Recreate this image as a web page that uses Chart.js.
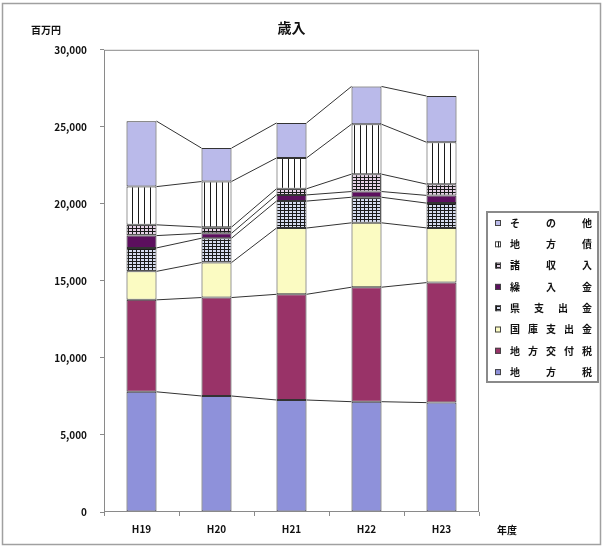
<!DOCTYPE html>
<html>
<head>
<meta charset="utf-8">
<script src="https://cdn.jsdelivr.net/npm/chart.js@4/dist/chart.umd.min.js"></script>
<style>
  body { margin: 0; background: #fff; }
  #wrap { width: 604px; height: 549px; }
</style>
</head>
<body>
<div id="wrap"><canvas id="revenue-chart" width="604" height="549"></canvas></div>
<script>
const categories = ['H19', 'H20', 'H21', 'H22', 'H23'];
const seriesNames = ['地方税', '地方交付税', '国庫支出金', '県支出金', '繰入金', '諸収入', '地方債', 'その他'];
// 百万円
const chihouzei = [7800, 7530, 7270, 7160, 7100];
const koufuzei = [5970, 6390, 6860, 7430, 7790];
const kokkoShishutsu = [1850, 2270, 4300, 4180, 3550];
const kenShishutsu = [1520, 1580, 1750, 1660, 1610];
const kurikomi = [800, 320, 400, 370, 500];
const shoShuunyuu = [700, 400, 400, 1130, 730];
const chihousai = [2480, 2960, 2000, 3240, 2720];
const sonota = [4250, 2170, 2270, 2450, 3000];
const yTicks = [0, 5000, 10000, 15000, 20000, 25000, 30000];

const JP = '"Noto Sans CJK JP", "Noto Sans", sans-serif';

function makePattern(w, h, bg, draw) {
    const c = document.createElement('canvas');
    c.width = w;
    c.height = h;
    const x = c.getContext('2d');
    x.fillStyle = bg;
    x.fillRect(0, 0, w, h);
    x.fillStyle = '#1a1a1a';
    draw(x);
    return x.createPattern(c, 'repeat');
}

const gridPatternA = makePattern(4, 3, '#d6dcef', x => { x.fillRect(0, 0, 4, 1); x.fillRect(0, 0, 1, 3); });
const gridPatternB = makePattern(4, 3, '#e6d2e6', x => { x.fillRect(0, 0, 4, 1); x.fillRect(0, 0, 1, 3); });
const vlinePattern = makePattern(6, 1, '#ffffff', x => { x.fillRect(0, 0, 1, 1); });

const seriesValues = [chihouzei, koufuzei, kokkoShishutsu, kenShishutsu, kurikomi, shoShuunyuu, chihousai, sonota];
const seriesFills = ['#8e91da', '#993368', '#fbfbc2', gridPatternA, '#5c0f5e', gridPatternB, vlinePattern, '#babaea'];

// lines joining the segment tops of neighbouring bars
const seriesLinesPlugin = {
    id: 'seriesLines',
    afterDatasetsDraw(chart) {
        const ctx = chart.ctx;
        ctx.save();
        ctx.strokeStyle = '#333';
        ctx.lineWidth = 1;
        chart.data.datasets.forEach((ds, d) => {
            const bars = chart.getDatasetMeta(d).data;
            for (let i = 0; i < bars.length - 1; i++) {
                const a = bars[i], b = bars[i + 1];
                ctx.beginPath();
                ctx.moveTo(a.x + a.width / 2, a.y);
                ctx.lineTo(b.x - b.width / 2, b.y);
                ctx.stroke();
            }
        });
        ctx.restore();
    }
};

const decorPlugin = {
    id: 'decor',
    afterDraw(chart) {
        const ctx = chart.ctx;
        const area = chart.chartArea;
        ctx.save();
        // outer frame
        ctx.strokeStyle = '#a0a0a0';
        ctx.lineWidth = 1.5;
        ctx.strokeRect(2.5, 3.5, 598, 541);
        // plot frame
        ctx.strokeStyle = '#8a8a8a';
        ctx.lineWidth = 1;
        ctx.strokeRect(area.left + 0.5, area.top + 0.5, area.width - 1, area.height - 1);
        // units
        ctx.fillStyle = '#111';
        ctx.font = 'bold 10px ' + JP;
        ctx.textBaseline = 'middle';
        ctx.textAlign = 'center';
        ctx.fillText('百万円', 46, 30);
        ctx.fillText('年度', 507, 530);

        // legend box, reversed order
        ctx.strokeStyle = '#8a8a8a';
        ctx.lineWidth = 2;
        ctx.strokeRect(487, 212, 111, 170);
        const items = chart.data.datasets.slice().reverse();
        items.forEach((ds, k) => {
            const y = 223 + k * 21.3;
            ctx.fillStyle = ds.backgroundColor;
            ctx.fillRect(495, y - 3, 6, 6);
            ctx.strokeStyle = '#444';
            ctx.lineWidth = 1;
            ctx.strokeRect(495.5, y - 2.5, 5, 5);
            const chars = Array.from(ds.label);
            const x0 = 515, x1 = 587;
            const step = (x1 - x0) / (chars.length - 1);
            ctx.fillStyle = '#111';
            ctx.font = 'bold 10px ' + JP;
            chars.forEach((ch, j) => ctx.fillText(ch, x0 + j * step, y));
        });
        ctx.restore();
    }
};

const ctx = document.getElementById('revenue-chart').getContext('2d');
const revenueChart = new Chart(ctx, {
    type: 'bar',
    data: {
        labels: categories,
        datasets: seriesNames.map((name, i) => ({
            label: name,
            data: seriesValues[i],
            backgroundColor: seriesFills[i],
            borderColor: '#333',
            borderWidth: 1,
            borderSkipped: false,
            barPercentage: 0.4,
            categoryPercentage: 1.0,
        })),
    },
    options: {
        responsive: false,
        animation: false,
        layout: { padding: { top: 10, right: 125, bottom: 0, left: 0 } },
        plugins: {
            legend: { display: false },
            tooltip: { enabled: false },
            title: {
                display: true,
                text: '歳入',
                fullSize: false,
                color: '#111',
                font: { family: JP, size: 14, weight: 'bold', lineHeight: 1.2 },
                padding: { top: 9, bottom: 14 },
            },
        },
        scales: {
            x: {
                stacked: true,
                afterFit: s => { s.height = 37; },
                border: { display: false },
                grid: { offset: true, drawOnChartArea: false, tickLength: 4, color: '#8a8a8a' },
                ticks: { color: '#111', padding: 7, font: { family: JP, size: 10, weight: 'bold' } },
            },
            y: {
                stacked: true,
                min: 0,
                max: 30000,
                afterFit: s => { s.width = 104; },
                afterBuildTicks: s => { s.ticks = yTicks.map(v => ({ value: v })); },
                border: { display: false },
                grid: { drawOnChartArea: false, tickLength: 4, color: '#8a8a8a' },
                ticks: {
                    color: '#111',
                    padding: 13,
                    font: { family: JP, size: 10, weight: 'bold' },
                    callback: v => v.toLocaleString('en-US'),
                },
            },
        },
    },
    plugins: [seriesLinesPlugin, decorPlugin],
});
</script>
</body>
</html>
